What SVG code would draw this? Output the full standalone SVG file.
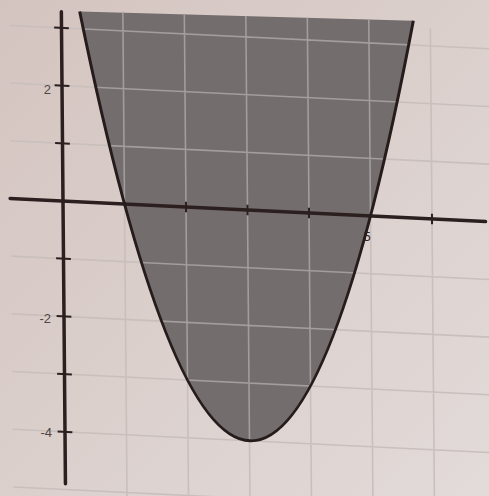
<svg xmlns="http://www.w3.org/2000/svg" width="489" height="496" viewBox="0 0 489 496">
<defs>
<linearGradient id="paper" x1="0" y1="0" x2="1" y2="1">
<stop offset="0" stop-color="#d4c4bf"/>
<stop offset="1" stop-color="#e2dbd9"/>
</linearGradient>
<clipPath id="regionClip" clipPathUnits="userSpaceOnUse">
<path transform="matrix(61.5,3,-0.5,-57.7,63,201)" d="M0.298 3.3 Q3.011 -11.361 5.724 3.42 Z"/>
</clipPath>
</defs>
<style>
.grid{fill:none;stroke:#c9bfbc;stroke-width:1.6;vector-effect:non-scaling-stroke}
.gridin{fill:none;stroke:#a39d9d;stroke-width:1.6;vector-effect:non-scaling-stroke}
.region{fill:#736d6d;stroke:none}
.axis{fill:none;stroke:#2b1f1f;stroke-width:3.5;stroke-linecap:round;vector-effect:non-scaling-stroke}
.tick{fill:none;stroke:#2b1f1f;stroke-width:2;vector-effect:non-scaling-stroke}
.curve{fill:none;stroke:#261c1c;stroke-width:3;vector-effect:non-scaling-stroke}
.lbl{font-family:"Liberation Sans",Arial,sans-serif;font-size:13px;fill:#4f4545}
</style>
<rect id="background" x="0" y="0" width="489" height="496" fill="url(#paper)"/>
<g id="plot" transform="matrix(61.5,3,-0.5,-57.7,63,201)">
<path id="grid" class="grid" d="M-0.85 3H7.2M-0.85 2H7.2M-0.85 1H7.2M-0.85 -1H7.2M-0.85 -2H7.2M-0.85 -3H7.2M-0.85 -4H7.2M-0.85 -5H7.2M1 3.35V-5.5M2 3.35V-5.5M3 3.35V-5.5M4 3.35V-5.5M5 3.35V-5.5M6 3.3V-5.5"/>
<path id="region" class="region" d="M0.298 3.3 Q3.011 -11.361 5.724 3.42 Z"/>
</g>
<g id="grid-inside" clip-path="url(#regionClip)">
<path class="gridin" transform="matrix(61.5,3,-0.5,-57.7,63,201)" d="M-0.85 3H7.2M-0.85 2H7.2M-0.85 1H7.2M-0.85 -1H7.2M-0.85 -2H7.2M-0.85 -3H7.2M-0.85 -4H7.2M1 3.5V-5.5M2 3.5V-5.5M3 3.5V-5.5M4 3.5V-5.5M5 3.5V-5.5"/>
</g>
<g id="axes" transform="matrix(61.5,3,-0.5,-57.7,63,201)">
<path id="x-axis" class="axis" d="M-0.86 0H6.87"/>
<path id="y-axis" class="axis" d="M0 3.28V-4.9"/>
<path id="ticks" class="tick" d="M-0.12 3H0.12M-0.12 2H0.12M-0.12 1H0.12M-0.12 -1H0.12M-0.12 -2H0.12M-0.12 -3H0.12M-0.12 -4H0.12M2 0.09V-0.09M3 0.09V-0.09M4 0.09V-0.09M6 0.09V-0.09"/>
</g>
<g id="parabola" transform="matrix(61.5,3,-0.5,-57.7,63,201)">
<path class="curve" d="M0.298 3.3 Q3.011 -11.361 5.724 3.42"/>
</g>
<g id="labels">
<text class="lbl" x="51" y="94" text-anchor="end">2</text>
<text class="lbl" x="51" y="323" text-anchor="end">-2</text>
<text class="lbl" x="52" y="437" text-anchor="end">-4</text>
<text class="lbl" x="367" y="241" text-anchor="middle" style="fill:#2b1f1f">5</text>
</g>
</svg>
